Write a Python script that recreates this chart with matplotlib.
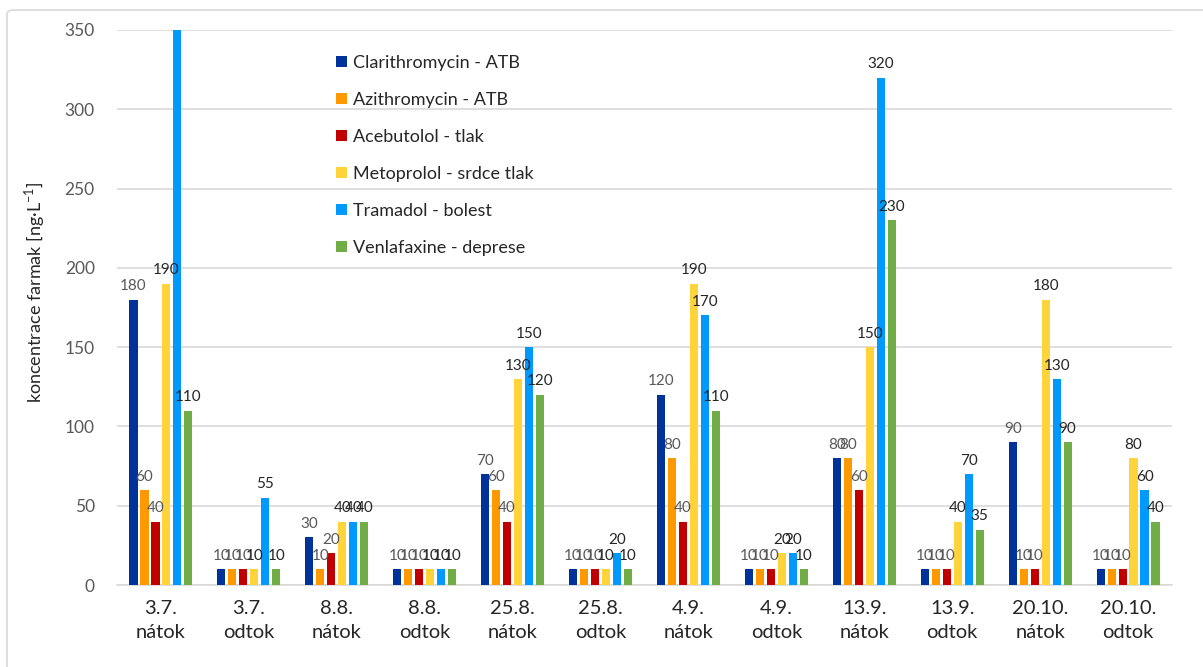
import numpy as np
import matplotlib.pyplot as plt
from matplotlib.patches import FancyBboxPatch

plt.rcParams['font.family'] = ['Lato', 'DejaVu Sans']

# Sampling days (inflow / outflow of the treatment plant)
categories = ['3.7.\nnátok', '3.7.\nodtok', '8.8.\nnátok', '8.8.\nodtok',
              '25.8.\nnátok', '25.8.\nodtok', '4.9.\nnátok', '4.9.\nodtok',
              '13.9.\nnátok', '13.9.\nodtok', '20.10.\nnátok', '20.10.\nodtok']

series_names = ['Clarithromycin - ATB', 'Azithromycin - ATB', 'Acebutolol - tlak',
                'Metoprolol - srdce tlak', 'Tramadol - bolest', 'Venlafaxine - deprese']

clarithromycin = [180, 10, 30, 10, 70, 10, 120, 10, 80, 10, 90, 10]
azithromycin = [60, 10, 10, 10, 60, 10, 80, 10, 80, 10, 10, 10]
acebutolol = [40, 10, 20, 10, 40, 10, 40, 10, 60, 10, 10, 10]
metoprolol = [190, 10, 40, 10, 130, 10, 190, 20, 150, 40, 180, 80]
tramadol = [350, 55, 40, 10, 150, 20, 170, 20, 320, 70, 130, 60]
venlafaxine = [110, 10, 40, 10, 120, 10, 110, 10, 230, 35, 90, 40]

series = [clarithromycin, azithromycin, acebutolol, metoprolol, tramadol, venlafaxine]
colors = ['#003399', '#FF9900', '#C00000', '#FFD43B', '#0099FF', '#70AD47']
label_colors = ['#595959', '#595959', '#595959', '#262626', '#262626', '#262626']

yticks = [0, 50, 100, 150, 200, 250, 300, 350]
ymax = 350

fig = plt.figure(figsize=(12.03, 6.67), dpi=100)
ax = fig.add_axes([117 / 1203, 1 - 585 / 667, (1172 - 117) / 1203, (585 - 30) / 667])

# light rounded border around the chart area
fig.patches.append(FancyBboxPatch((7 / 1203, -0.05), 1.1, 1 - 10 / 667 + 0.05,
                                  boxstyle='round,pad=0,rounding_size=0.006',
                                  transform=fig.transFigure, fill=False,
                                  edgecolor='#D9D9D9', linewidth=1.2, zorder=0))

x = np.arange(len(categories))
pitch = 0.125
width = 0.092
for k, (vals, name, col, lcol) in enumerate(zip(series, series_names, colors, label_colors)):
    pos = x + (k - 2.5) * pitch
    ax.bar(pos, vals, width=width, color=col, label=name, zorder=3)
    for px, v in zip(pos, vals):
        if v >= ymax:
            continue
        ax.text(px, v + 4, str(v), ha='center', va='bottom', fontsize=11,
                color=lcol, zorder=4)

ax.set_ylim(0, ymax)
ax.set_xlim(-0.5, len(categories) - 0.5)
ax.set_yticks(yticks)
ax.set_xticks(x)
ax.set_xticklabels(categories, fontsize=14.5, color='#262626', linespacing=1.45)
ax.tick_params(axis='y', length=0, pad=16, labelsize=12.5, labelcolor='#595959')
ax.tick_params(axis='x', length=0, pad=11)
ax.grid(axis='y', color='#D9D9D9', linewidth=1.2, zorder=0)
for side in ['top', 'right', 'left']:
    ax.spines[side].set_visible(False)
ax.spines['bottom'].set_color('#D9D9D9')
ax.spines['bottom'].set_linewidth(1.2)

fig.text(35 / 1203, 1 - 292 / 667, r'koncentrace farmak [ng·L$^{\mathregular{-1}}$]',
         rotation=90, ha='center', va='center', fontsize=13, color='#262626')

ax.legend(loc='upper left', bbox_to_anchor=((327 - 117) / 1055, 1 - (46 - 30) / 555),
          frameon=False, fontsize=13, handlelength=0.6, handleheight=0.6,
          handletextpad=0.35, labelspacing=1.16, borderpad=0, labelcolor='#262626')

fig.savefig('out.png', dpi=100)
